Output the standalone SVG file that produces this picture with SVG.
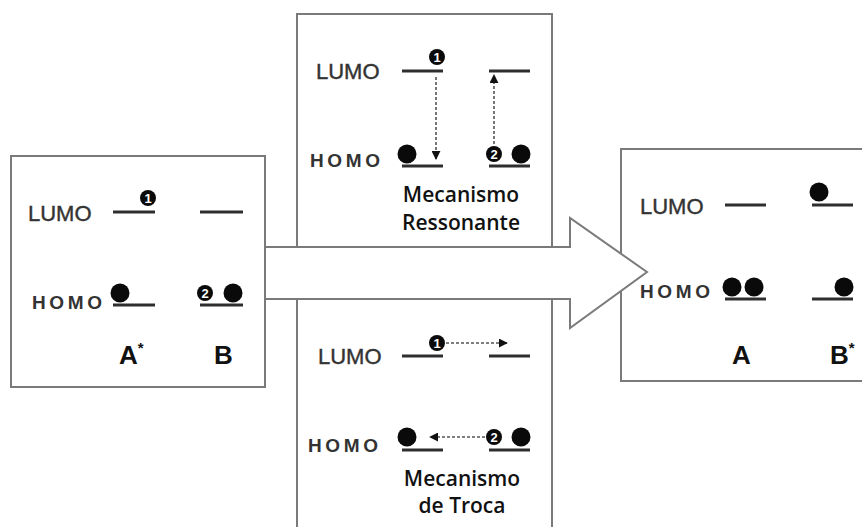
<svg xmlns="http://www.w3.org/2000/svg" width="862" height="527" viewBox="0 0 862 527">
  <style>
    .box { fill: #ffffff; stroke: #7a7a7a; stroke-width: 2; }
    .level { stroke: #2e2e2e; stroke-width: 3; }
    .e { fill: #0a0a0a; }
    .num { fill: #0a0a0a; }
    .numtxt { fill: #ffffff; font-family: "Liberation Sans", Arial, sans-serif; font-weight: bold; font-size: 13px; text-anchor: middle; }
    .lumo { fill: #333333; stroke: #333333; stroke-width: 0.4; font-family: "Liberation Sans", Arial, sans-serif; font-size: 22px; }
    .homo { fill: #333333; font-family: "Liberation Sans", Arial, sans-serif; font-weight: bold; font-size: 19px; letter-spacing: 3.6px; }
    .mol { fill: #111111; font-family: "Liberation Sans", Arial, sans-serif; font-weight: bold; font-size: 26px; }
    .sup { font-size: 15px; }
    .mech { fill: #111111; font-family: "Open Sans", "Liberation Sans", sans-serif; font-weight: 600; font-size: 21px; text-anchor: middle; }
    .flow { fill: #ffffff; stroke: #7a7a7a; stroke-width: 2; stroke-linejoin: miter; }
    .dash { stroke: #555555; stroke-width: 1.6; stroke-dasharray: 3 2; fill: none; }
  </style>
  <defs>
    <marker id="tip" viewBox="0 0 10 10" refX="9" refY="5" markerWidth="9" markerHeight="9" markerUnits="userSpaceOnUse" orient="auto">
      <path d="M0,0 L10,5 L0,10 Z" fill="#111111"/>
    </marker>
  </defs>

  <rect width="862" height="527" fill="#ffffff"/>

  <!-- Donor/acceptor before transfer -->
  <g id="initial-state">
    <rect class="box" x="11" y="156" width="254" height="231"/>
    <text class="lumo" x="28" y="221">LUMO</text>
    <text class="homo" x="32" y="309">HOMO</text>
    <line class="level" x1="113" y1="212" x2="155" y2="212"/>
    <line class="level" x1="200" y1="212" x2="243" y2="212"/>
    <line class="level" x1="113" y1="305" x2="155" y2="305"/>
    <line class="level" x1="200" y1="305" x2="243" y2="305"/>
    <circle class="num" cx="148" cy="198" r="8"/>
    <text class="numtxt" x="148" y="202.5">1</text>
    <circle class="e" cx="120" cy="293" r="9.5"/>
    <circle class="num" cx="205" cy="293" r="8"/>
    <text class="numtxt" x="205" y="297.5">2</text>
    <circle class="e" cx="233" cy="293" r="9.5"/>
    <text class="mol" x="119" y="364">A<tspan class="sup" dy="-11">*</tspan></text>
    <text class="mol" x="214" y="364">B</text>
  </g>

  <!-- Resonant (Förster-type) mechanism -->
  <g id="resonant-mechanism">
    <rect class="box" x="297" y="14" width="255" height="233"/>
    <text class="lumo" x="316" y="79">LUMO</text>
    <text class="homo" x="310" y="167">HOMO</text>
    <line class="level" x1="402" y1="71" x2="443" y2="71"/>
    <line class="level" x1="489" y1="71" x2="530" y2="71"/>
    <line class="level" x1="402" y1="166" x2="443" y2="166"/>
    <line class="level" x1="489" y1="166" x2="530" y2="166"/>
    <circle class="num" cx="437" cy="57" r="8"/>
    <text class="numtxt" x="437" y="61.5">1</text>
    <circle class="e" cx="407" cy="154" r="9.5"/>
    <circle class="num" cx="494" cy="154" r="8"/>
    <text class="numtxt" x="494" y="158.5">2</text>
    <circle class="e" cx="521" cy="154" r="9.5"/>
    <text class="mech" x="461" y="202">Mecanismo</text>
    <text class="mech" x="461" y="230">Ressonante</text>
  </g>

  <!-- Exchange (Dexter-type) mechanism -->
  <g id="exchange-mechanism">
    <rect class="box" x="297" y="299" width="255" height="240"/>
    <text class="lumo" x="318" y="364">LUMO</text>
    <text class="homo" x="308" y="452">HOMO</text>
    <line class="level" x1="402" y1="356" x2="443" y2="356"/>
    <line class="level" x1="489" y1="356" x2="530" y2="356"/>
    <line class="level" x1="402" y1="450" x2="443" y2="450"/>
    <line class="level" x1="489" y1="450" x2="530" y2="450"/>
    <circle class="num" cx="437" cy="343" r="8"/>
    <text class="numtxt" x="437" y="347.5">1</text>
    <circle class="e" cx="407" cy="437" r="9.5"/>
    <circle class="num" cx="494" cy="437" r="8"/>
    <text class="numtxt" x="494" y="441.5">2</text>
    <circle class="e" cx="521" cy="437" r="9.5"/>
    <text class="mech" x="462" y="486">Mecanismo</text>
    <text class="mech" x="462" y="513">de Troca</text>
  </g>

  <!-- Donor/acceptor after transfer -->
  <g id="final-state">
    <rect class="box" x="621" y="149" width="260" height="232"/>
    <text class="lumo" x="640" y="214">LUMO</text>
    <text class="homo" x="640" y="298">HOMO</text>
    <line class="level" x1="725" y1="205" x2="766" y2="205"/>
    <line class="level" x1="812" y1="205" x2="853" y2="205"/>
    <line class="level" x1="725" y1="299" x2="766" y2="299"/>
    <line class="level" x1="812" y1="299" x2="853" y2="299"/>
    <circle class="e" cx="819" cy="192" r="9.5"/>
    <circle class="e" cx="732" cy="287" r="9.5"/>
    <circle class="e" cx="754" cy="287" r="9.5"/>
    <circle class="e" cx="844" cy="287" r="9.5"/>
    <text class="mol" x="732" y="364">A</text>
    <text class="mol" x="830" y="364">B<tspan class="sup" dy="-11">*</tspan></text>
  </g>

  <!-- Connectors: big transfer arrow and electron moves -->
  <g id="connectors">
    <polygon class="flow" points="265,247 570,247 570,218 647,272 570,328 570,299 265,299"/>
    <line class="dash" x1="436" y1="77" x2="436" y2="159" marker-end="url(#tip)"/>
    <line class="dash" x1="494" y1="144" x2="494" y2="75" marker-end="url(#tip)"/>
    <line class="dash" x1="446" y1="343" x2="507" y2="343" marker-end="url(#tip)"/>
    <line class="dash" x1="485" y1="437" x2="430" y2="437" marker-end="url(#tip)"/>
  </g>
</svg>
